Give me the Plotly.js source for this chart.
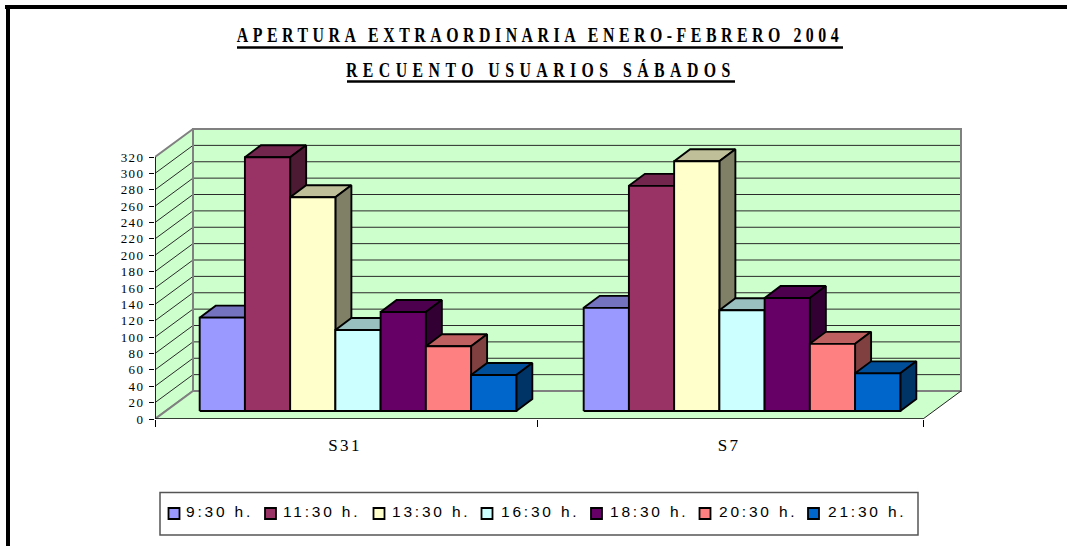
<!DOCTYPE html>
<html><head><meta charset="utf-8">
<script src="https://cdn.plot.ly/plotly-3.0.1.min.js"></script>
<style>
html,body{margin:0;padding:0;background:#fff;overflow:hidden}
#c{width:1067px;height:546px}
.gtitle{letter-spacing:6.3px;transform-box:fill-box;transform-origin:center;transform:scaleX(.72)}
.annotation-text{letter-spacing:7.55px;transform-box:fill-box;transform-origin:center;transform:scaleX(.72)}
.ytick text{letter-spacing:1.4px}
.xtick text{letter-spacing:2.4px}
.textpoint text{letter-spacing:2.8px}
</style></head><body><div id="c"></div>
<script>
const W=1067,H=546;
const categories=['S31','S7'];
const seriesNames=['9:30 h.','11:30 h.','13:30 h.','16:30 h.','18:30 h.','20:30 h.','21:30 h.'];
const s0930=[114,126];
const s1130=[310,275];
const s1330=[261,305];
const s1630=[99,123];
const s1830=[121,138];
const s2030=[79,82];
const s2130=[44,46];
const seriesValues=[s0930,s1130,s1330,s1630,s1830,s2030,s2130];
const frontColors=['#9999FF','#993366','#FFFFCC','#CCFFFF','#660066','#FF8080','#0066CC'];
const topColors=['#7373BF','#73264D','#BFBF99','#99BFBF','#4D004D','#BF6060','#004D99'];
const sideColors=['#4D4D80','#4D1A33','#808066','#668080','#330033','#804040','#003366'];
const yTicks=[0,20,40,60,80,100,120,140,160,180,200,220,240,260,280,300,320];
const legendSwatchX=[174,270.5,379,487,596.5,705,813.5];
const legendTextX=[186,283,392,501,610,719,828];

// layout geometry in page pixels
const axL=155,axB=419,catPx=384,unitPx=262/320;
const plotR=968,plotT=122;
const wallDX=38/catPx,wallDY=28/unitPx;     // floor depth in data units
const frontDX=11/catPx,frontDY=8/unitPx;    // bar front plane inset
const barDX=16/catPx,barDY=12/unitPx;       // bar depth
const barW=0.1178,groupW=barW*7;
const xMax=-0.5+(plotR-axL)/catPx,yMax=(axB-plotT)/unitPx;

const traces=[];
function poly(xs,ys,fill,line,lw,extra){
  traces.push(Object.assign({type:'scatter',mode:'lines',x:xs,y:ys,fill:fill?'toself':'none',
    fillcolor:fill||undefined,line:{color:line,width:lw},showlegend:false,hoverinfo:'skip',cliponaxis:false},extra||{}));
}
const xL=-0.5,xR=1.5,yTop=yTicks[yTicks.length-1];
// walls and floor
const wallCol='#CCFFCC',edge='#808080';
poly([xL+wallDX,xR+wallDX,xR+wallDX,xL+wallDX,xL+wallDX],[wallDY,wallDY,yTop+wallDY,yTop+wallDY,wallDY],wallCol,edge,2);
poly([xL,xL+wallDX,xL+wallDX,xL,xL],[0,wallDY,yTop+wallDY,yTop,0],wallCol,edge,2);
poly([xL,xR,xR+wallDX,xL+wallDX,xL],[0,0,wallDY,wallDY,0],wallCol,'rgba(0,0,0,0)',0);
// grid lines
const gx=[],gy=[];
yTicks.slice(1,-1).forEach(v=>{gx.push(xL,xL+wallDX,xR+wallDX,null);gy.push(v,v+wallDY,v+wallDY,null);});
poly(gx,gy,null,'#2a2a2a',1);
poly([xL,xL+wallDX],[0,wallDY],null,edge,2);
poly([xL+wallDX,xR+wallDX,xR+wallDX],[wallDY,wallDY,yTop+wallDY],null,edge,2);
poly([xL+wallDX,xL+wallDX],[wallDY,yTop+wallDY],null,edge,2);
poly([xR,xR+wallDX],[0,wallDY],null,'#222',1);
// axis lines
poly([xL,xL,xR],[yTop,0,0],null,'#000',1.5);
// bars, painted left to right
seriesValues.forEach((vals,i)=>{
  const tx=[],ty=[],sx=[],sy=[],fx=[],fy=[];
  vals.forEach((v,g)=>{
    const x0=g-groupW/2+i*barW+frontDX,x1=x0+barW,y0=frontDY,y1=frontDY+v;
    tx.push(x0,x1,x1+barDX,x0+barDX,x0,null);ty.push(y1,y1,y1+barDY,y1+barDY,y1,null);
    sx.push(x1,x1+barDX,x1+barDX,x1,x1,null);sy.push(y0,y0+barDY,y1+barDY,y1,y0,null);
    fx.push(x0,x1,x1,x0,x0,null);fy.push(y0,y0,y1,y1,y0,null);
  });
  poly(tx,ty,topColors[i],'#000',1.9);
  poly(sx,sy,sideColors[i],'#000',1.9);
  poly(fx,fy,frontColors[i],'#000',1.9);
});
// legend row, on a page-sized helper axis
traces.push({type:'scatter',mode:'markers',xaxis:'x2',yaxis:'y2',
  x:legendSwatchX,y:seriesNames.map(()=>513.5),
  marker:{symbol:'square',size:11,color:frontColors,line:{color:'#000',width:1.8}},
  showlegend:false,hoverinfo:'skip',cliponaxis:false});
traces.push({type:'scatter',mode:'text',xaxis:'x2',yaxis:'y2',
  x:legendTextX,y:seriesNames.map(()=>513.5),text:seriesNames,textposition:'middle right',
  textfont:{family:'Liberation Sans',size:15.5,color:'#000'},
  showlegend:false,hoverinfo:'skip',cliponaxis:false});

const px=v=>v/W,py=v=>1-v/H;
function rule(x0,y0,x1,y1,color,width){
  return {type:'line',xref:'paper',yref:'paper',x0:px(x0),y0:py(y0),x1:px(x1),y1:py(y1),line:{color,width},layer:'above'};
}
const layout={
  width:W,height:H,margin:{l:0,r:0,t:0,b:0,pad:0},paper_bgcolor:'#fff',plot_bgcolor:'rgba(0,0,0,0)',showlegend:false,
  title:{text:'<b>APERTURA EXTRAORDINARIA ENERO-FEBRERO 2004</b>',x:540/W,xanchor:'center',y:py(34.5),yanchor:'middle',
    font:{family:'Liberation Serif',size:22,color:'#000'}},
  annotations:[{text:'<b>RECUENTO USUARIOS SÁBADOS</b>',xref:'paper',yref:'paper',x:541/W,y:py(69),showarrow:false,
    xanchor:'center',yanchor:'middle',font:{family:'Liberation Serif',size:22,color:'#000'}}],
  xaxis:{domain:[axL/W,plotR/W],range:[xL,xMax],anchor:'y',showgrid:false,zeroline:false,showline:false,
    tickmode:'array',tickvals:[-0.005,0.995],ticktext:categories,ticks:'',ticklabelstandoff:14,
    tickfont:{family:'Liberation Serif',size:17,color:'#000'},
    minor:{tickmode:'array',tickvals:[-0.5,0.495,1.5],ticks:'outside',ticklen:7,tickwidth:1,tickcolor:'#000',showgrid:false}},
  yaxis:{domain:[1-axB/H,1-plotT/H],range:[0,yMax],anchor:'x',showgrid:false,zeroline:false,showline:false,
    tickmode:'array',tickvals:yTicks,ticks:'outside',ticklen:5,tickwidth:1,tickcolor:'#000',ticklabelstandoff:2,
    tickfont:{family:'Liberation Serif',size:13,color:'#000'}},
  xaxis2:{domain:[0,1],range:[0,W],anchor:'y2',visible:false,fixedrange:true},
  yaxis2:{domain:[0,1],range:[H,0],anchor:'x2',visible:false,fixedrange:true},
  shapes:[
    rule(237,47.5,843,47.5,'#000',2.5),
    rule(347,81.5,735,81.5,'#000',2.5),
    rule(5,7,1067,7,'#000',4),
    rule(8,5,8,546,'#000',4),
    {type:'rect',xref:'paper',yref:'paper',x0:px(160),x1:px(918),y0:py(492.5),y1:py(535),line:{color:'#555',width:1.5},fillcolor:'rgba(0,0,0,0)',layer:'below'}
  ]
};
Plotly.newPlot('c',traces,layout,{displayModeBar:false,staticPlot:true});
</script></body></html>
